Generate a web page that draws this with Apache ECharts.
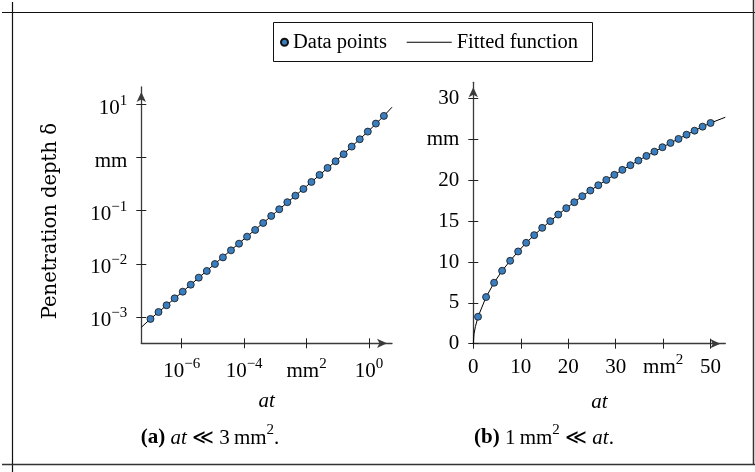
<!DOCTYPE html>
<html><head><meta charset="utf-8">
<script src="https://cdn.jsdelivr.net/npm/echarts@6/dist/echarts.min.js"></script>
<style>html,body{margin:0;padding:0;background:#fff}#c{width:755px;height:472px}</style>
</head><body><div id="c"></div>
<script>
// ---- data ----
const leftAt = [1.0e-7, 1.81e-7, 3.28e-7, 5.94e-7, 1.08e-6, 1.95e-6, 3.52e-6, 6.38e-6, 1.16e-5, 2.09e-5,
  3.79e-5, 6.86e-5, 1.24e-4, 2.25e-4, 4.07e-4, 7.37e-4, 1.33e-3, 2.42e-3, 4.38e-3, 7.92e-3,
  1.43e-2, 2.60e-2, 4.70e-2, 8.51e-2, 0.154, 0.279, 0.505, 0.915, 1.66, 3.00];
const leftDepth = [9.2e-4, 1.24e-3, 1.66e-3, 2.24e-3, 2.99e-3, 4.05e-3, 5.49e-3, 7.33e-3, 9.91e-3, 1.32e-2,
  1.79e-2, 2.39e-2, 3.24e-2, 4.33e-2, 5.86e-2, 7.94e-2, 0.106, 0.144, 0.191, 0.255,
  0.346, 0.469, 0.635, 0.847, 1.15, 1.60, 2.20, 3.06, 4.33, 6.04];
const leftFitAt = [5.08e-8, 1e-7, 1e-6, 1e-5, 1e-4, 1e-3, 1e-2, 1e-1, 1, 3, 5.45];
const leftFitDepth = [6.4e-4, 9.2e-4, 2.89e-3, 9.3e-3, 2.93e-2, 9.15e-2, 0.288, 0.92, 3.2, 6.04, 8.8];

const rightAt = [1.00, 2.69, 4.38, 6.07, 7.76, 9.45, 11.14, 12.83, 14.52, 16.21, 17.90, 19.59, 21.28, 22.97, 24.66,
  26.34, 28.03, 29.72, 31.41, 33.10, 34.79, 36.48, 38.17, 39.86, 41.55, 43.24, 44.93, 46.62, 48.31, 50.00];
const rightDepth = [3.30, 5.71, 7.46, 8.93, 10.15, 11.29, 12.35, 13.29, 14.18, 15.00, 15.81, 16.59, 17.32, 18.06, 18.75,
  19.40, 20.05, 20.67, 21.28, 21.85, 22.42, 22.99, 23.51, 24.05, 24.58, 25.07, 25.59, 26.08, 26.57, 27.02];
const rightFitAt = [0, 0.15, 0.45, 1.00, 2.69, 4.38, 6.07, 7.76, 9.45, 11.14, 12.83, 14.52, 16.21, 17.90, 19.59, 21.28,
  22.97, 24.66, 26.34, 28.03, 29.72, 31.41, 33.10, 34.79, 36.48, 38.17, 39.86, 41.55, 43.24, 44.93, 46.62, 48.31, 50.00, 53.1];
const rightFitDepth = [0, 1.2, 2.1, 3.30, 5.71, 7.46, 8.93, 10.15, 11.29, 12.35, 13.29, 14.18, 15.00, 15.81, 16.59, 17.32,
  18.06, 18.75, 19.40, 20.05, 20.67, 21.28, 21.85, 22.42, 22.99, 23.51, 24.05, 24.58, 25.07, 25.59, 26.08, 26.57, 27.02, 27.72];

const leftXTicks = [1e-6, 1e-4, 1e-2, 1];
const leftXTickLabels = ['10^−6', '10^−4', 'mm^2', '10^0'];
const leftYTicks = [1e-3, 1e-2, 1e-1, 1, 10];
const leftYTickLabels = ['10^−3', '10^−2', '10^−1', 'mm', '10^1'];
const rightXTicks = [0, 10, 20, 30, 40, 50];
const rightXTickLabels = ['0', '10', '20', '30', 'mm^2', '50'];
const rightYTicks = [0, 5, 10, 15, 20, 25, 30];
const rightYTickLabels = ['0', '5', '10', '15', '20', 'mm', '30'];

const xName = 'at';
const yName = 'Penetration depth δ';
const captionA = '{b|(a)} {i|at} ≪ 3\u2009mm{s|2}.';
const captionB = '{b|(b)} 1\u2009mm{s|2} ≪ {i|at}.';

// ---- styling ----
const FONT = 'Liberation Serif';
const AXIS_COLOR = '#3a3a3a';
const TICK_COLOR = '#222';
const richStyle = {
  n: {fontFamily: FONT, fontSize: 21, lineHeight: 30, color: '#000'},
  s: {fontFamily: FONT, fontSize: 15, lineHeight: 10, verticalAlign: 'top', color: '#000'}
};
function toRich(label) {
  const p = label.split('^');
  return p.length > 1 ? '{n|' + p[0] + '}{s|' + p[1] + '}' : '{n|' + p[0] + '}';
}
function makeFmt(ticks, labels, log) {
  return function (v) {
    let best = 0, bd = Infinity;
    ticks.forEach(function (t, i) {
      const d = log ? Math.abs(Math.log10(v) - Math.log10(t)) : Math.abs(v - t);
      if (d < bd) { bd = d; best = i; }
    });
    return toRich(labels[best]);
  };
}
function zip(a, b) { return a.map(function (v, i) { return [v, b[i]]; }); }

function axis(dim, grid, type, min, max, ticks, labels, main, extra, labelExtra) {
  const a = {
    type: type, gridIndex: grid, min: min, max: max,
    position: dim === 'x' ? 'bottom' : 'left',
    splitLine: {show: false}, minorTick: {show: false},
    axisLine: main ? {show: true, onZero: false, symbol: ['none', 'arrow'], symbolSize: [7, 10], symbolOffset: [0, -5],
      lineStyle: {color: AXIS_COLOR, width: 1.3}} : {show: false, onZero: false},
    axisTick: {show: true, inside: !main, length: 5, customValues: ticks, lineStyle: {color: TICK_COLOR, width: 1}},
    axisLabel: main ? Object.assign({show: true, customValues: ticks, formatter: makeFmt(ticks, labels, type === 'log'),
      rich: richStyle, margin: 14, color: '#000'}, labelExtra || {}) : {show: false},
    silent: true
  };
  if (type === 'log') a.logBase = 10;
  return Object.assign(a, extra || {});
}
const nameStyleX = {fontFamily: FONT, fontStyle: 'italic', fontSize: 21, color: '#000'};

const leftXMin = 5.08e-8, leftXMax = 5.45, leftYMin = 3.2e-4, leftYMax = 21.1;
const rightXMin = 0, rightXMax = 53.1, rightYMin = 0, rightYMax = 32;

const captionRich = {
  b: {fontFamily: FONT, fontSize: 21, fontWeight: 'bold', lineHeight: 30},
  i: {fontFamily: FONT, fontSize: 21, fontStyle: 'italic', lineHeight: 30},
  s: {fontFamily: FONT, fontSize: 15, lineHeight: 10, verticalAlign: 'top'}
};

const chart = echarts.init(document.getElementById('c'), null, {renderer: 'canvas'});
chart.setOption({
  animation: false,
  backgroundColor: '#fff',
  grid: [
    {left: 141.3, top: 87, width: 250.7, height: 256.3},
    {left: 473.3, top: 82.3, width: 252, height: 261.4}
  ],
  xAxis: [
    axis('x', 0, 'log', leftXMin, leftXMax, leftXTicks, leftXTickLabels, true,
      {name: xName, nameLocation: 'middle', nameGap: 48, nameTextStyle: nameStyleX}, {margin: 13}),
    axis('x', 0, 'log', leftXMin, leftXMax, leftXTicks, leftXTickLabels, false),
    axis('x', 1, 'value', rightXMin, rightXMax, rightXTicks, rightXTickLabels, true,
      {name: xName, nameLocation: 'middle', nameGap: 48, nameTextStyle: nameStyleX}, {margin: 9}),
    axis('x', 1, 'value', rightXMin, rightXMax, rightXTicks, rightXTickLabels, false)
  ],
  yAxis: [
    axis('y', 0, 'log', leftYMin, leftYMax, leftYTicks, leftYTickLabels, true,
      {name: yName, nameLocation: 'middle', nameGap: 80,
        nameTextStyle: {fontFamily: 'DejaVu Serif', fontSize: 19.5, color: '#000', padding: [0, 12, 0, 0]}},
      {padding: [8, 0, 0, 0]}),
    axis('y', 0, 'log', leftYMin, leftYMax, leftYTicks, leftYTickLabels, false),
    axis('y', 1, 'value', rightYMin, rightYMax, rightYTicks, rightYTickLabels, true),
    axis('y', 1, 'value', rightYMin, rightYMax, rightYTicks, rightYTickLabels, false)
  ],
  legend: [
    {data: ['Data points'], left: 280, top: 31.7, padding: 0, itemWidth: 7, itemHeight: 7, selectedMode: false,
      textStyle: {fontFamily: FONT, fontSize: 20.5, color: '#000'}},
    {data: [{name: 'Fitted function', icon: 'rect'}], left: 406.7, top: 31.7, padding: 0, itemWidth: 45, itemHeight: 1,
      selectedMode: false, textStyle: {fontFamily: FONT, fontSize: 20.5, color: '#000'}}
  ],
  series: [
    {name: 'Fitted function', type: 'line', xAxisIndex: 0, yAxisIndex: 0, data: zip(leftFitAt, leftFitDepth),
      symbol: 'none', lineStyle: {color: '#000', width: 1}, itemStyle: {color: '#000'}, z: 2},
    {name: 'Data points', type: 'scatter', xAxisIndex: 0, yAxisIndex: 0, data: zip(leftAt, leftDepth),
      symbol: 'circle', symbolSize: 7, itemStyle: {color: '#3a7ebf', borderColor: '#111', borderWidth: 0.8, opacity: 1}, z: 3},
    {name: 'Fitted function', type: 'line', xAxisIndex: 2, yAxisIndex: 2, data: zip(rightFitAt, rightFitDepth),
      symbol: 'none', lineStyle: {color: '#000', width: 1}, itemStyle: {color: '#000'}, z: 2},
    {name: 'Data points', type: 'scatter', xAxisIndex: 2, yAxisIndex: 2, data: zip(rightAt, rightDepth),
      symbol: 'circle', symbolSize: 7, itemStyle: {color: '#3a7ebf', borderColor: '#111', borderWidth: 0.8, opacity: 1}, z: 3}
  ],
  graphic: [
    {type: 'line', shape: {x1: 2, y1: 12.5, x2: 755, y2: 12.5}, style: {stroke: '#111', lineWidth: 1.2}, silent: true},
    {type: 'line', shape: {x1: 12.5, y1: 2, x2: 12.5, y2: 472}, style: {stroke: '#111', lineWidth: 1.2}, silent: true},
    {type: 'line', shape: {x1: 2, y1: 464.5, x2: 755, y2: 464.5}, style: {stroke: '#333', lineWidth: 1.5}, silent: true},
    {type: 'line', shape: {x1: 753.5, y1: 0, x2: 753.5, y2: 465}, style: {stroke: '#333', lineWidth: 1.5}, silent: true},
    {type: 'rect', shape: {x: 273.5, y: 22.5, width: 319, height: 39}, style: {fill: 'none', stroke: '#111', lineWidth: 1}, silent: true},
    {type: 'text', x: 210, y: 438, silent: true, style: {text: captionA, align: 'center', verticalAlign: 'middle',
      fontFamily: FONT, fontSize: 21, fill: '#000', rich: captionRich}},
    {type: 'text', x: 544, y: 438, silent: true, style: {text: captionB, align: 'center', verticalAlign: 'middle',
      fontFamily: FONT, fontSize: 21, fill: '#000', rich: captionRich}}
  ]
});
</script></body></html>
